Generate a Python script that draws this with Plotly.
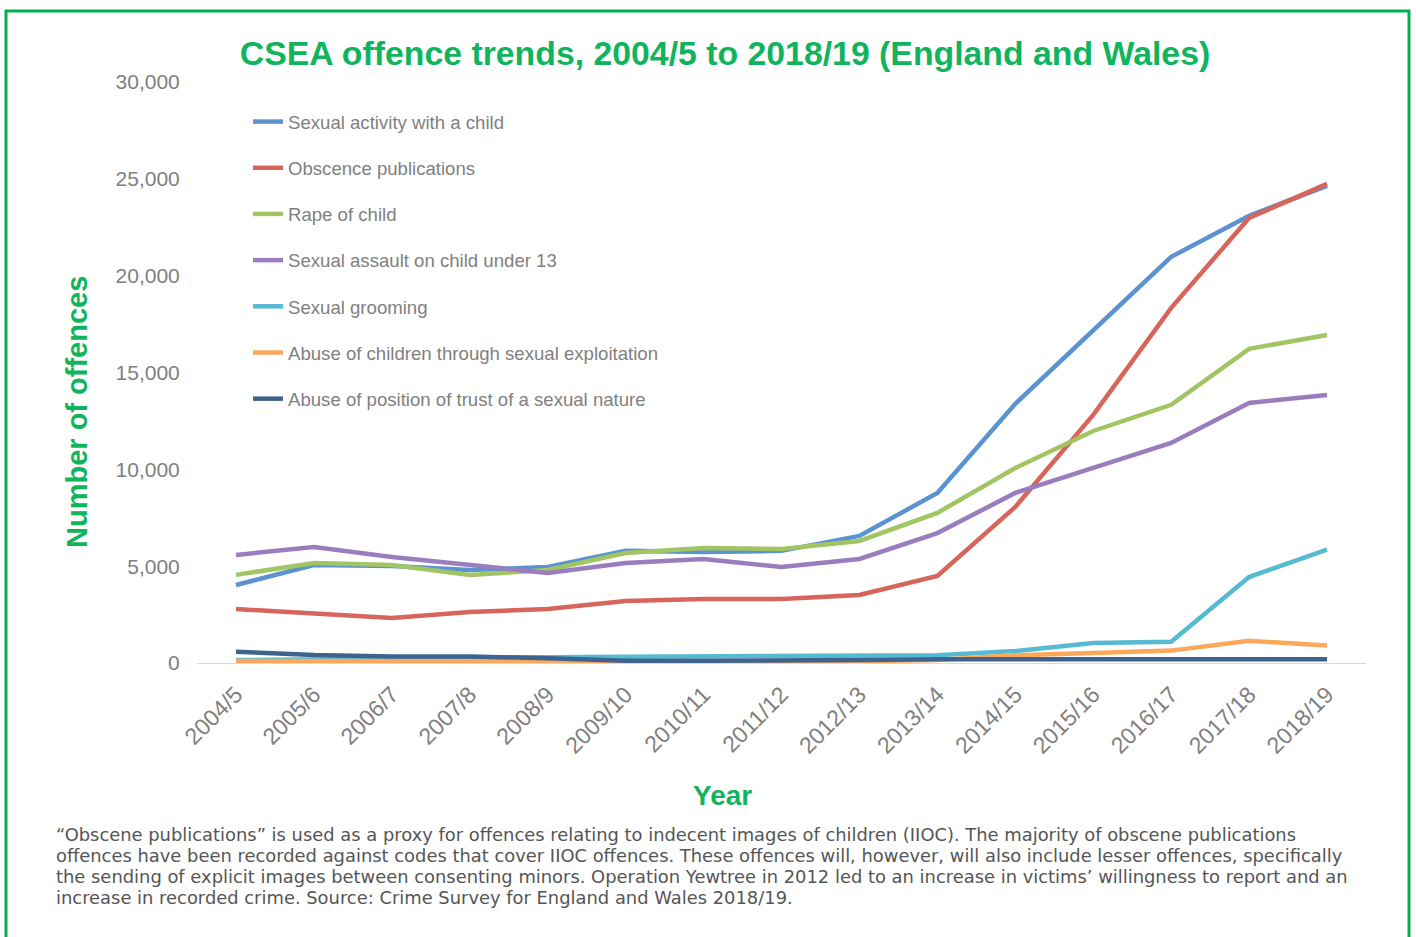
import plotly.graph_objects as go

years = ["2004/5", "2005/6", "2006/7", "2007/8", "2008/9", "2009/10", "2010/11",
         "2011/12", "2012/13", "2013/14", "2014/15", "2015/16", "2016/17", "2017/18", "2018/19"]

sexual_activity = [4030, 5060, 5010, 4800, 4960, 5790, 5730, 5790, 6560, 8780, 13380, 17200, 20970, 23090, 24640]
obscene_pubs = [2790, 2580, 2320, 2630, 2790, 3200, 3300, 3300, 3510, 4490, 8060, 12810, 18340, 22980, 24740]
rape_child = [4550, 5160, 5060, 4550, 4800, 5680, 5940, 5890, 6300, 7750, 10070, 11980, 13330, 16220, 16940]
assault_u13 = [5580, 5990, 5470, 5060, 4650, 5160, 5370, 4960, 5370, 6710, 8780, 10070, 11360, 13430, 13840]
grooming = [150, 200, 250, 280, 300, 320, 330, 330, 340, 400, 620, 1030, 1100, 4440, 5860]
exploitation = [100, 100, 90, 90, 90, 80, 80, 80, 90, 150, 400, 520, 640, 1150, 900]
position_trust = [580, 410, 330, 330, 250, 120, 120, 120, 150, 200, 200, 200, 200, 200, 200]

series_names = ["Sexual activity with a child", "Obscence publications", "Rape of child",
                "Sexual assault on child under 13", "Sexual grooming",
                "Abuse of children through sexual exploitation",
                "Abuse of position of trust of a sexual nature"]
series_values = [sexual_activity, obscene_pubs, rape_child, assault_u13, grooming,
                 exploitation, position_trust]
colors = ["#5B93D0", "#D7655C", "#A2C563", "#9A7DBE", "#55BAD2", "#FDA75A", "#3E638F"]

footnote_lines = [
    "“Obscene publications” is used as a proxy for offences relating to indecent images of children (IIOC). The majority of obscene publications",
    "offences have been recorded against codes that cover IIOC offences. These offences will, however, will also include lesser offences, specifically",
    "the sending of explicit images between consenting minors. Operation Yewtree in 2012 led to an increase in victims’ willingness to report and an",
    "increase in recorded crime. Source: Crime Survey for England and Wales 2018/19.",
]

GREEN = "#10B45C"
fig = go.Figure()
for name, vals, col in zip(series_names, series_values, colors):
    fig.add_trace(go.Scatter(x=years, y=vals, name=name, mode="lines",
                             legendgroup=name,
                             line=dict(color=col, width=4.5)))

L, R, T, B = 197, 50, 82, 274
W, H = 1416, 937
pw, ph = W - L - R, H - T - B

def px(x):
    return (x - L) / pw

def py(y):
    return (H - B - y) / ph

annotations = [
    dict(text="<b>Number of offences</b>", x=px(77), y=py(412), xref="paper", yref="paper",
         textangle=-90, showarrow=False, xanchor="center", yanchor="middle",
         font=dict(size=29, color=GREEN)),
    dict(text="<b>Year</b>", x=px(722), y=py(795), xref="paper", yref="paper",
         showarrow=False, xanchor="center", yanchor="middle",
         font=dict(size=28, color=GREEN)),
]
for i, line in enumerate(footnote_lines):
    annotations.append(dict(text=line, x=px(54), y=py(834 + i * 21.3), xref="paper", yref="paper",
                            showarrow=False, xanchor="left", yanchor="middle", align="left",
                            font=dict(size=17.9, color="#555555",
                                      family="DejaVu Sans, Verdana, sans-serif")))

fig.update_layout(
    width=W, height=H,
    margin=dict(l=L, r=R, t=T, b=B),
    paper_bgcolor="white", plot_bgcolor="white",
    font=dict(family="Liberation Sans, Arial, sans-serif", color="#7F7F7F"),
    title=dict(text="<b>CSEA offence trends, 2004/5 to 2018/19 (England and Wales)</b>",
               x=725 / W, xanchor="center", y=1 - 53 / H, yanchor="middle",
               font=dict(size=33.8, color=GREEN, family="Liberation Sans, Arial, sans-serif")),
    showlegend=True,
    legend=dict(x=px(248), y=py(103), xanchor="left", yanchor="top",
                bgcolor="rgba(0,0,0,0)", font=dict(size=18.6, color="#7F7F7F"),
                tracegroupgap=19, itemwidth=30),
    xaxis=dict(type="category", range=[-0.5, 14.5], tickangle=-45,
               tickfont=dict(size=23, color="#7F7F7F"),
               showgrid=False, showline=True, linecolor="#D9D9D9", linewidth=1,
               ticks="outside", ticklen=8, tickcolor="rgba(0,0,0,0)", zeroline=False),
    yaxis=dict(range=[0, 30000], dtick=5000, tickformat=",", showgrid=False,
               zeroline=False, showline=False, ticks="outside", ticklen=12,
               tickcolor="rgba(0,0,0,0)",
               tickfont=dict(size=21, color="#7F7F7F")),
    annotations=annotations,
    shapes=[
        dict(type="rect", xref="paper", yref="paper",
             x0=px(6), x1=px(1409), y0=py(960), y1=py(11),
             line=dict(color="#00B050", width=3), fillcolor="rgba(0,0,0,0)", layer="below"),
    ],
)

fig.write_html("out.html")
